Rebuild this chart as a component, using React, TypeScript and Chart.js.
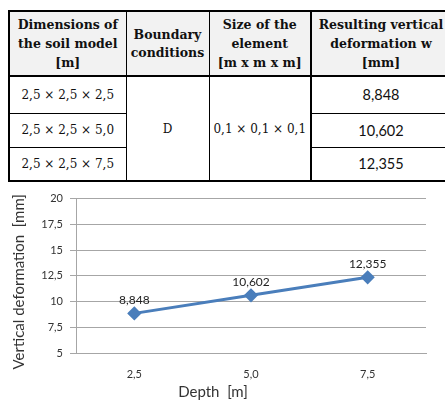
import React, { useEffect, useRef } from "react";
import { Chart, registerables } from "chart.js";

Chart.register(...registerables);

// Table content
const modelSizes = ["2,5 × 2,5 × 2,5", "2,5 × 2,5 × 5,0", "2,5 × 2,5 × 7,5"];
const boundaryCondition = "D";
const elementSize = "0,1 × 0,1 × 0,1";

// Chart content
const depths = ["2,5", "5,0", "7,5"];
const deformation = [8.848, 10.602, 12.355];
const yMin = 5;
const yMax = 20;
const yStep = 2.5;
const yTitle = "Vertical deformation  [mm]";
const xTitle = "Depth  [m]";

const comma = (v: number, digits?: number) =>
  (digits === undefined ? String(v) : v.toFixed(digits)).replace(".", ",");

const LINE_BLUE = "#4a7ebb";
const TEXT_DARK = "#333333";
const GRID = "#a6a6a6";

// Value labels above each point
const valueLabels = {
  id: "valueLabels",
  afterDatasetsDraw(chart: any) {
    const { ctx } = chart;
    const meta = chart.getDatasetMeta(0);
    const data = chart.data.datasets[0].data as number[];
    ctx.save();
    ctx.font = "12px Lato";
    ctx.fillStyle = "#222222";
    ctx.textAlign = "center";
    ctx.textBaseline = "middle";
    meta.data.forEach((pt: any, i: number) => {
      ctx.fillText(comma(data[i], 3), pt.x, pt.y - 13);
    });
    ctx.restore();
  },
};

// Rotated y-axis caption drawn at the left edge
const yCaption = {
  id: "yCaption",
  afterDraw(chart: any) {
    const { ctx, chartArea } = chart;
    ctx.save();
    ctx.font = "15px Lato";
    ctx.fillStyle = TEXT_DARK;
    ctx.textAlign = "center";
    ctx.textBaseline = "middle";
    ctx.translate(19, (chartArea.top + chartArea.bottom) / 2 + 6);
    ctx.rotate(-Math.PI / 2);
    ctx.fillText(yTitle, 0, 0);
    ctx.restore();
  },
};

function DeformationChart() {
  const ref = useRef<HTMLCanvasElement | null>(null);
  useEffect(() => {
    if (!ref.current) return;
    const chart = new Chart(ref.current, {
      type: "line",
      data: {
        labels: depths,
        datasets: [
          {
            data: deformation,
            borderColor: LINE_BLUE,
            backgroundColor: LINE_BLUE,
            borderWidth: 3,
            pointStyle: "rectRot",
            pointRadius: 5,
            pointHoverRadius: 5,
            tension: 0,
          },
        ],
      },
      options: {
        responsive: false,
        animation: false,
        devicePixelRatio: 1,
        layout: { padding: { top: 10, right: 19, left: 0, bottom: 0 } },
        plugins: {
          legend: { display: false },
          tooltip: { enabled: false },
          title: {
            display: true,
            position: "bottom",
            text: xTitle,
            color: TEXT_DARK,
            font: { family: "Lato", size: 15, weight: "normal" },
            padding: { top: 0, bottom: 2 },
          },
        },
        scales: {
          x: {
            offset: true,
            grid: { display: false },
            border: { display: true, color: GRID, width: 1 },
            ticks: {
              color: TEXT_DARK,
              font: { family: "Lato", size: 11 },
              padding: 7,
            },
            afterFit: (s: any) => {
              s.height = 30;
            },
          },
          y: {
            min: yMin,
            max: yMax,
            grid: { color: GRID, tickLength: 6, drawTicks: true },
            border: { display: true, color: GRID, width: 1 },
            ticks: {
              stepSize: yStep,
              color: TEXT_DARK,
              font: { family: "Lato", size: 11 },
              padding: 7,
              callback: (v: any) => comma(Number(v)),
            },
            afterFit: (s: any) => {
              s.width = 76;
            },
          },
        },
      },
      plugins: [valueLabels, yCaption],
    });
    return () => chart.destroy();
  }, []);
  return (
    <canvas
      ref={ref}
      width={445}
      height={218}
      style={{ width: 445, height: 218, display: "block" }}
    />
  );
}

const thin = "1px solid #000";
const thick = "2px solid #000";

export default function App() {
  const head: React.CSSProperties = {
    background: "#f2f2f2",
    fontFamily: "'DejaVu Serif', serif",
    fontWeight: "bold",
    fontSize: 12.5,
    lineHeight: "19px",
    textAlign: "center",
    verticalAlign: "middle",
    padding: 0,
    color: "#111",
    whiteSpace: "nowrap",
    overflow: "visible",
  };
  const serifCell: React.CSSProperties = {
    fontFamily: "'DejaVu Serif', serif",
    fontSize: 12,
    textAlign: "center",
    verticalAlign: "middle",
    padding: 0,
    color: "#111",
    whiteSpace: "nowrap",
  };
  const numCell: React.CSSProperties = {
    fontFamily: "Lato, sans-serif",
    fontSize: 14.5,
    textAlign: "center",
    verticalAlign: "middle",
    padding: 0,
    color: "#111",
  };
  return (
    <div
      style={{
        position: "absolute",
        left: 0,
        top: 0,
        width: 445,
        height: 403,
        overflow: "hidden",
        background: "#fff",
      }}
    >
      <table
        style={{
          position: "absolute",
          left: 8,
          top: 10,
          borderCollapse: "collapse",
          tableLayout: "fixed",
          width: 442,
          border: thick,
        }}
      >
        <colgroup>
          <col style={{ width: 117 }} />
          <col style={{ width: 83 }} />
          <col style={{ width: 102 }} />
          <col style={{ width: 140 }} />
        </colgroup>
        <tbody>
          <tr style={{ height: 65 }}>
            <td style={{ ...head, borderRight: thin, borderBottom: thick }}>
              Dimensions of
              <br />
              the soil model
              <br />
              [m]
            </td>
            <td style={{ ...head, borderRight: thin, borderBottom: thick, lineHeight: "18px" }}>
              Boundary
              <br />
              conditions
            </td>
            <td style={{ ...head, borderRight: thick, borderBottom: thick }}>
              Size of the
              <br />
              element
              <br />
              [m x m x m]
            </td>
            <td style={{ ...head, borderBottom: thick }}>
              Resulting vertical
              <br />
              deformation w
              <br />
              [mm]
            </td>
          </tr>
          {modelSizes.map((size, i) => (
            <tr key={size} style={{ height: i === 0 ? 37 : 34 }}>
              <td style={{ ...serifCell, borderRight: thin, borderBottom: thin }}>{size}</td>
              {i === 0 && (
                <td rowSpan={3} style={{ ...serifCell, borderRight: thin }}>
                  {boundaryCondition}
                </td>
              )}
              {i === 0 && (
                <td rowSpan={3} style={{ ...serifCell, borderRight: thick }}>
                  {elementSize}
                </td>
              )}
              <td style={{ ...numCell, borderBottom: thin }}>{comma(deformation[i], 3)}</td>
            </tr>
          ))}
        </tbody>
      </table>
      <div style={{ position: "absolute", left: 0, top: 185, width: 445, height: 218 }}>
        <DeformationChart />
      </div>
    </div>
  );
}
